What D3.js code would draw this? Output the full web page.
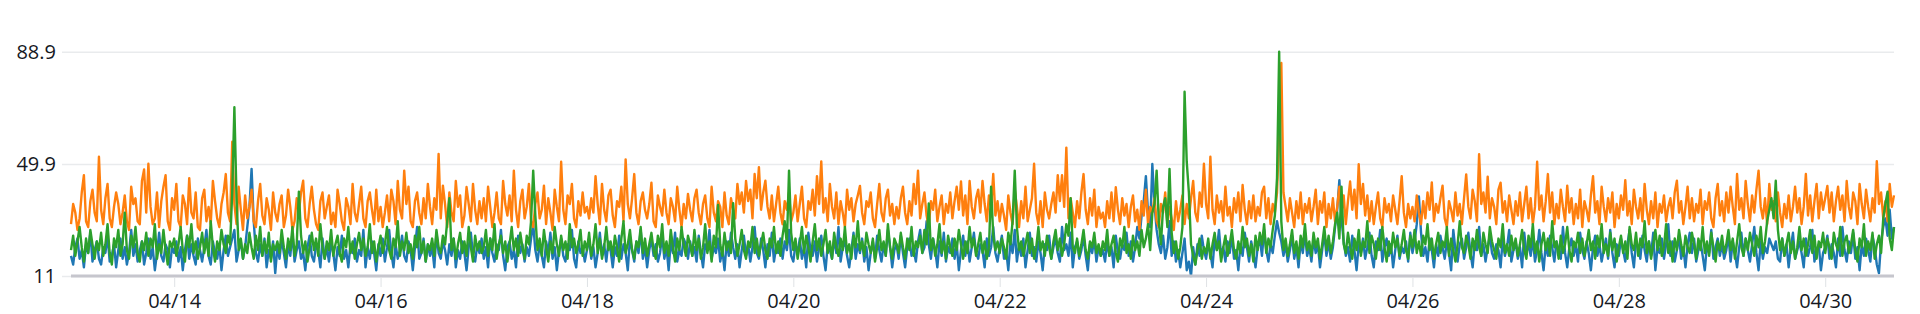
<!DOCTYPE html>
<html>
<head>
<meta charset="utf-8">
<script src="https://cdn.jsdelivr.net/npm/d3@7"></script>
<style>
  body { margin: 0; background: #fff; }
  svg { display: block; }
</style>
</head>
<body>
<div id="chart"></div>
<script>
// half-hour samples starting 04/13 00:00
const startTime = new Date(2024, 3, 13, 0, 0);
const stepMinutes = 30;

const yTicks = [11, 49.9, 88.9];
const tickLabels = ["04/14", "04/16", "04/18", "04/20", "04/22", "04/24", "04/26", "04/28", "04/30"];

const seriesNames = ["metric1", "metric2", "metric3"];

const metric1 = [
  18,15,21,24,17,20,14,22,19,26,16,20, 23,17,15,21,19,25,16,18,22,14,20,24, 17,21,15,19,27,18,22,16,20,23,15,19, 24,17,21,13,19,26,18,16,22,20,14,21,
  19,23,16,21,13,20,25,17,22,18,15,24, 20,16,21,27,18,15,23,19,17,22,13,20, 25,18,21,24,27,16,20,23,17,21,28,35, 48.2,30,19,16,22,18,24,14,20,17,23,12,
  21,17,24,19,14,22,18,26,16,20,23,17, 19,13,21,25,18,16,22,20,14,24,17,21, 16,23,19,13,21,18,25,17,20,14,22,19, 24,16,20,18,27,14,21,17,23,19,13,22,
  18,24,16,21,27,19,14,22,17,20,25,18, 16,23,20,13,21,28,17,19,24,16,22,18, 21,14,26,19,17,23,20,15,22,18,24,14, 20,17,23,19,13,21,26,18,16,22,19,24,
  17,21,14,24,19,16,22,20,27,18,13,21, 23,17,20,14,25,19,22,16,21,18,24,29, 20,16,22,18,14,23,19,26,17,21,13,20, 24,18,16,22,20,27,17,14,23,19,21,16,
  20,24,17,21,14,19,26,18,22,16,23,20, 14,21,18,25,17,22,19,13,24,20,16,23, 19,27,17,21,14,20,24,18,22,16,19,25, 17,21,13,23,19,26,16,20,18,24,22,17,
  23,18,21,16,25,19,14,22,20,27,17,21, 19,24,16,20,13,23,18,26,21,17,22,14, 20,25,18,22,16,21,28,19,17,24,20,14, 22,18,26,16,21,19,24,17,23,20,27,18,
  16,22,19,24,17,21,14,26,20,18,23,16, 21,25,18,13,22,20,17,24,19,28,16,21, 23,18,14,20,26,17,22,19,24,16,21,13, 19,23,17,25,20,16,22,18,27,21,14,20,
  22,17,25,19,14,21,24,18,20,16,23,27, 19,21,30,22,17,24,20,14,23,18,26,16, 21,19,24,17,22,13,20,25,18,23,16,21, 26,19,17,22,20,14,24,18,21,28,19,16,
  21,25,17,20,13,23,19,27,16,22,18,24, 14,20,26,18,21,16,23,19,13,22,20,25, 17,21,24,19,16,28,20,22,18,26,14,21, 23,17,20,25,18,13,22,19,24,16,21,18,
  20,16,23,18,21,14,25,19,17,22,20,26, 18,23,16,21,28,24,32,37,45.7,33,28,49.9, 36,27,22,19,25,17,21,30,18,23,16,20, 14,19,24,13,16,11,21,15,22,18,25,20,
  17,22,19,14,24,20,27,18,21,16,23,19, 25,17,20,13,22,18,26,21,16,23,19,14, 21,24,18,27,20,16,22,19,25,30,26,23, 18,22,16,20,25,17,21,14,23,19,26,18,
  21,16,24,19,22,14,20,26,18,23,17,21, 28,34,44.3,31,23,18,21,16,25,20,13,22, 19,24,17,21,26,18,14,23,20,27,16,21, 24,18,22,14,20,25,17,21,19,23,16,26,
  19,23,29,38.6,26,18,21,16,24,20,14,22, 18,25,21,17,23,19,13,27,20,16,22,24, 17,21,26,19,14,23,20,28,18,22,16,21, 25,19,17,22,20,14,24,18,21,27,16,20,
  23,17,21,14,26,19,22,18,24,16,20,27, 19,13,22,18,25,21,16,23,20,17,28,19, 14,21,24,18,22,16,26,20,17,23,19,13, 21,25,18,22,16,20,24,17,27,19,14,22,
  18,24,20,16,22,27,19,14,23,21,17,25, 20,16,23,18,26,13,21,19,24,17,22,29, 18,23,16,20,25,17,21,14,22,26,19,24, 16,20,23,18,13,22,19,27,17,21,24,18,
  22,17,20,25,16,23,19,14,21,26,18,24, 20,16,22,28,19,13,23,17,21,19,24,22, 20,23,17,16,24,18,22,14,21,26,17,20, 23,19,14,24,18,21,27,16,20,22,13,19,
  21,25,17,22,19,14,24,18,28,20,16,23, 19,26,17,21,13,22,18,24,20,16,25,21, 15,12,23,28,31,25,34,24,28
];

const metric2 = [
  29,36,33,27,31,40,46,30,28,37,41,33, 30,52.4,34,29,38,43,31,28,35,40,36,29, 33,39,30,27,42,36,38,30,29,44,48,33, 50,35,29,31,40,28,37,42,46,30,27,38,
  34,43,30,28,39,36,29,45,33,31,40,28, 27,38,41,30,35,29,44,37,31,28,36,40, 46.4,33,30,57.6,36,29,42,34,27,39,31,35, 41,30,28,37,43,32,29,38,34,27,40,33,
  30,36,39,28,32,41,35,27,30,38,33,40, 44.1,31,28,36,42,34,29,27,37,40,31,35, 39,29,33,28,41,36,30,27,38,35,29,43, 33,30,36,42,31,28,37,40,34,29,41,30,
  35,28,33,39,30,41,37,29,44,34,31,47.6, 36,42,30,28,37,40,33,29,38,31,43,35, 29,38,34,53.4,31,42.4,36,28,40,33,30,44, 35,39,28,32,41.9,36,30,43,34,29,37,31,
  38,30,42,35,28,33,40,31,29,44,36,32, 39,30,47.6,34,28,37,41,31,35,43,30,28, 36,40,31,34,42.4,29,38,33,27,41,35,30, 50.7,34,29,39,36,43,31,28,37,32,40,33,
  35,31,38,33,45.7,36,29,43,34,30,39,41, 32,28,37,35,42,30,51.5,36,31,38,46.4,33, 29,37,40,34,31,36,43.4,30,28,39,35,32, 41,33,29,38,35,30,42,34,28,36,31,39.5,
  34,30,38,41,33,29,36,39,31,28,42,33, 30,37,35,28,40,32,29,38,34,31,43,36, 40,33,44,37,41,31,46.4,38,48.8,34,40,44.1, 35,31,39,30,36,42,33,29,37,34,40,30,
  33,39,30,36,42,31,28,37,34,41,32,45.7, 36,50.8,33,38,30,43,35,31,40,29,37,33, 28,41,34,38,30,36,39,42.3,33,29,37,35, 40,31,28,36,43,33,30,38,41,32,36,29,
  35,31,38,42,33,29,37,32,43,36,47.6,31, 36,40,32,28,37,34,41,30,35,39,29,36, 33,40,31,37,42,34,43.8,32,39,29,44,35, 31,38,41,33,44,36,30,39,35,46.4,32,37,
  30,36,32,27,39,33,29,41,35,28,37,31, 42,30,34,38,50,33,29,37,28,40,34,31, 36,40,33,46,37,46,35,55.6,31,38,33,28, 37,31,40,46.4,34,29,38,32,41,28,35,31,
  33,28,37,31,40,30,41.8,34,29,38,32,36, 28,35,39,30,34,27,37,32,41,29,35,33, 38,30,28,36,33,40,29,35,31,27,37,30, 34,39,29,36,31,38,44,33,30,40,35,50,
  36,31,52.4,34,29,39,33,37,30,42,32,35, 28,38,33,40,30,42.6,34,29,37,31,39,30, 35,32,40,42,31,38,29,36,33,40,60,85, 40,35,30,38,33,28,37,31,40,29,36,33,
  38,30,35,41,29,37,33,40,28,36,31,38, 30,35,42,33,39,29,37,43.8,34,41,31,49.8, 36,43,32,39,30,37,29,35,40,31,28,38, 33,36,30,39,34,29,37,45.7,33,28,36,31,
  35,30,39,33,29,37,31,40,34,43.5,30,36, 33,38,42.4,31,28,37,34,30,40,32,36,29, 38,46.3,35,31,41,37,30,53.3,36,40,33,45.5, 31,38,35,29,41,43.4,33,37,30,39,34,29,
  37,32,40,30,36,42,31,38,29,35,50.7,34, 39,30,37,46.4,33,40,29,36,31,41,35,30, 42.4,33,38,29,36,31,41,28,37,34,30,39, 45.7,33,37,29,42,35,30,38,33,40,28,36,
  31,39,34,44.3,32,37,29,41,35,31,38,30, 43,34,29,37,31,40,28,36,33,39,30,35, 38,31,40,44.1,33,37,29,35,42,31,38,30, 36,33,41,29,37,34,40,31,28,38,43,32,
  37,30,40,33,42,35,29,46.4,34,38,31,44, 36,30,39,33,41,47.6,35,31,38,29,43,34, 37,30,40,33,28,36,31,39,30,35,42,33, 38,29,35,46.4,32,39,30,37,43,31,40,34,
  38,42.3,33,40,30,37,42,34,39,30,44,35, 31,40,37,29,43,36,31,41,35,30,38,33, 50.9,36,40,31,37,30,43,35,39
];

const metric3 = [
  20,25,18,23,28,21,16,24,19,27,22,17, 23,20,26,18,22,29,19,15,24,21,27,18, 22,33,20,17,25,21,28,19,16,23,20,26, 18,24,21,29,17,22,19,27,20,15,23,21,
  24,18,22,28,20,16,25,21,29,19,23,17, 21,26,19,24,18,30,21,16,23,20,27,22, 19,25,22,40,69.6,38,20,24,17,22,19,26, 21,17,25,20,28,18,23,19,26,16,22,20,
  23,19,27,21,17,24,20,28,18,22,40.3,25, 19,23,16,21,26,20,24,18,29,21,17,23, 20,27,18,22,25,19,16,24,21,28,19,23, 17,22,26,20,24,18,21,29,19,23,16,21,
  25,19,22,28,20,17,24,21,30,18,23,20, 26,19,22,17,25,21,28,19,23,16,22,20, 24,18,27,21,19,25,22,30,38,20,24,17, 22,26,19,23,18,28,21,16,25,20,23,19,
  21,27,18,24,20,29,17,22,25,19,23,16, 22,28,20,24,18,26,21,17,25,22,30,47.6, 32,20,24,18,27,21,16,23,19,28,22,18, 25,20,23,17,29,21,24,19,22,27,18,23,
  20,26,18,22,29,19,24,17,21,28,20,23, 18,25,21,16,24,30,19,22,27,20,17,23, 21,28,19,24,18,22,26,20,17,25,21,29, 19,23,18,27,21,16,24,20,28,22,18,25,
  22,18,27,20,24,17,21,29,19,23,16,25, 21,35.7,22,18,26,20,23,19,36.3,24,18,22, 27,20,17,23,21,28,19,24,18,22,26,20, 17,24,21,28,19,23,18,25,30,22,47.6,26,
  20,24,17,22,28,19,25,21,16,23,29,20, 24,18,22,27,19,23,17,26,21,18,24,20, 28,19,22,17,25,21,30,20,23,18,26,22, 19,24,16,21,27,20,23,18,29,21,17,24,
  22,19,26,21,17,24,20,28,18,23,21,25, 19,27,22,36.2,20,24,18,22,29,19,23,17, 25,21,18,24,20,27,22,17,23,19,28,21, 24,18,22,26,19,23,17,21,42,25,20,23,
  19,24,21,17,26,22,30,47.6,28,20,23,18, 22,26,19,24,17,21,28,20,23,18,25,21, 17,23,27,20,24,18,22,29,25,38,21,19, 24,18,22,27,20,17,23,21,26,19,22,18,
  23,20,27,18,22,25,19,16,24,21,28,19, 22,17,25,20,23,18,27,21,24,29,20,33, 36,47.6,30,22,35,38,28,48.2,26,19,23,17, 21,28,75,50.7,40,22,18,15,20,24,17,21,
  19,24,17,22,26,20,23,16,21,25,18,22, 27,20,17,23,19,28,21,24,18,22,16,25, 20,26,22,29,19,24,21,27,32,45,88.9,30, 20,24,18,22,27,19,23,17,25,21,29,20,
  23,18,26,21,24,17,22,28,20,25,19,23, 29,33,24,42,22,19,26,21,17,24,20,27, 18,23,21,30,19,25,22,17,24,20,28,21, 16,23,19,26,21,24,18,22,27,20,17,25,
  21,27,19,23,18,25,22,29,20,24,17,22, 26,19,23,21,28,18,24,20,16,22,30,21, 19,25,22,17,24,20,27,21,18,26,22,19, 28,23,20,17,24,21,29,19,22,18,25,20,
  24,18,22,27,20,17,25,21,29,19,23,16, 22,26,20,24,18,30,21,23,17,25,19,22, 28,20,16,23,21,26,19,24,18,22,27,20, 23,17,25,21,29,19,22,18,26,20,24,16,
  21,25,19,23,17,28,22,20,26,18,24,21, 30,19,23,17,22,27,20,25,18,21,29,19, 23,16,24,20,27,22,18,25,21,19,26,22, 17,24,20,28,19,23,18,26,21,16,23,20,
  25,19,22,27,20,24,17,23,29,21,18,24, 20,26,22,18,25,21,28,19,23,30,34,38, 31,44.1,27,20,24,18,22,26,19,23,17,21, 28,20,24,18,22,27,19,25,17,23,21,26,
  19,24,21,17,26,22,20,28,18,23,25,19, 22,27,20,16,24,21,29,18,23,20,26,17, 22,25,19,31,36,40.3,24,20,28
];

const seriesValues = [metric1, metric2, metric3];
const colors = ["#1f77b4", "#ff7f0e", "#2ca02c"];

function chart() {
    const W = 1920, H = 314;
    const plotL = 71, plotR = 1894;
    const gridL = 62;
    const yTop = 51.7, yBottom = 276;

    const svg = d3.select("#chart").append("svg")
        .attr("width", W)
        .attr("height", H);

    svg.append("rect").attr("width", W).attr("height", H).attr("fill", "#fff");

    const times = metric2.map((d, i) => new Date(startTime.getTime() + i * stepMinutes * 60000));
    const tickDates = tickLabels.map(s => {
        const [m, d] = s.split("/").map(Number);
        return new Date(2024, m - 1, d);
    });

    const x = d3.scaleTime().domain(d3.extent(times)).range([plotL, plotR]);
    const y = d3.scaleLinear().domain([yTicks[0], yTicks[yTicks.length - 1]]).range([yBottom, yTop]);

    // y axis + gridlines
    const yAxis = d3.axisLeft(y)
        .tickValues(yTicks)
        .tickFormat(d => String(d))
        .tickSize(-(plotR - gridL))
        .tickPadding(6);
    const gy = svg.append("g")
        .attr("transform", `translate(${gridL},0)`)
        .call(yAxis);
    gy.select(".domain").remove();
    gy.selectAll(".tick line").attr("stroke", "#e9ebed").attr("stroke-width", 1.5);
    gy.selectAll(".tick text")
        .attr("fill", "#16191f")
        .style("font-family", "'Open Sans', sans-serif")
        .style("font-size", "20px");

    // x axis ticks and labels
    const xAxis = d3.axisBottom(x)
        .tickValues(tickDates)
        .tickFormat((d, i) => tickLabels[i])
        .tickSize(9)
        .tickPadding(7);
    const gx = svg.append("g")
        .attr("transform", `translate(0,${yBottom + 2})`)
        .call(xAxis);
    gx.select(".domain").remove();
    gx.selectAll(".tick line").attr("stroke", "#dfe2e5").attr("stroke-width", 1);
    gx.selectAll(".tick text")
        .attr("fill", "#16191f")
        .style("font-family", "'Open Sans', sans-serif")
        .style("font-size", "20px");

    // lines
    const line = d3.line()
        .x((d, i) => x(times[i]))
        .y(d => y(d));

    const lines = svg.append("g");
    seriesValues.forEach((vals, k) => {
        lines.append("path")
            .datum(vals)
            .attr("class", seriesNames[k])
            .attr("fill", "none")
            .attr("stroke", colors[k])
            .attr("stroke-width", 2.4)
            .attr("stroke-linejoin", "round")
            .attr("d", line);
    });

    // baseline
    svg.append("line")
        .attr("x1", plotL).attr("x2", plotR)
        .attr("y1", y(yTicks[0])).attr("y2", y(yTicks[0]))
        .attr("stroke", "#c6c6cd")
        .attr("stroke-width", 3);
}

chart();
</script>
</body>
</html>
